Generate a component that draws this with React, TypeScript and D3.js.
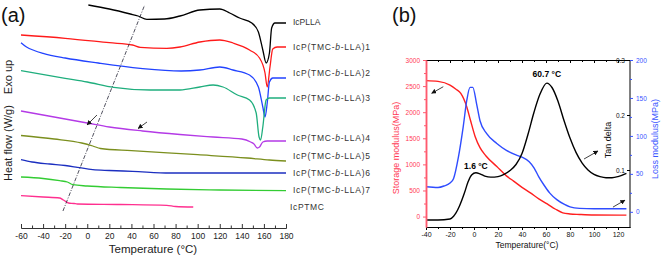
import React, { useRef, useEffect } from 'react';
import * as d3 from 'd3';

// (a) DSC curves: [temperature (°C), heat flow (shifted, W/g)]
const dscPLLA = [[1, 22.3], [20, 21.9], [39, 21.4], [46, 21.2], [54, 20.87], [70, 20.9], [84, 21.2], [102, 21.8], [120, 21.9], [129, 21.5], [138, 21.0], [149, 20.5], [155, 19.6], [159, 17.8], [162, 16.5], [165, 17.5], [167, 20.0], [170, 20.5], [180, 20.5]];
const dsc1 = [[-60, 19.3], [-20, 18.97], [20, 18.53], [41, 18.3], [48, 18.07], [72, 17.97], [84, 18.1], [102, 18.6], [120, 18.8], [132, 18.5], [147, 17.8], [156, 17.0], [161, 15.5], [163, 14.1], [165.5, 16.1], [168, 17.9], [172, 18.1], [180, 18.1]];
const dsc2 = [[-60, 18.53], [-55, 18.1], [-48, 17.75], [-40, 17.47], [-20, 17.0], [10, 16.5], [48, 15.97], [85, 15.7], [102, 15.8], [120, 16.1], [132, 15.8], [147, 15.3], [155, 14.1], [159, 12.1], [161, 11.1], [163, 12.5], [165, 14.6], [168, 15.0], [180, 15.0]];
const dsc3 = [[-60, 15.73], [-20, 14.97], [0, 14.6], [24, 14.07], [57, 13.8], [84, 13.8], [102, 14.1], [114, 14.3], [123, 14.1], [136, 13.3], [147, 12.8], [153, 11.5], [155.6, 9.1], [157, 8.8], [159, 10.1], [162, 12.8], [165, 13.0], [180, 13.0]];
const dsc4 = [[-60, 11.7], [-40, 11.3], [-20, 10.9], [0, 10.5], [20, 10.1], [50, 9.7], [84, 9.35], [114, 9.1], [140, 8.9], [148, 8.6], [151, 8.4], [154, 8.0], [156, 8.1], [159, 8.6], [163, 8.7], [180, 8.7]];
const dsc5 = [[-60, 9.25], [-30, 8.9], [-5, 8.5], [5, 8.2], [12, 7.95], [40, 7.73], [100, 7.33], [145, 7.0], [165, 6.8], [180, 6.7]];
const dsc6 = [[-60, 6.83], [-50, 6.6], [-34, 6.4], [-20, 6.25], [-9, 6.07], [5, 5.83], [20, 5.75], [41, 5.67], [75, 5.5], [180, 5.5]];
const dsc7 = [[-60, 5.1], [-40, 4.95], [-25, 4.73], [-18, 4.6], [-13, 4.33], [0, 4.2], [30, 4.05], [72, 3.9], [120, 3.8], [180, 3.73]];
const dscPTMC = [[-60, 3.23], [-40, 3.1], [-25, 3.0], [-22, 2.83], [-17, 2.5], [-12, 2.45], [-9, 2.4], [30, 2.35], [72, 2.27], [80, 2.15], [96, 2.1]];
const dscNames = ['IcPLLA', '1', '2', '3', '4', '5', '6', '7', 'IcPTMC'];
const dscColors = ['#000000', '#ff1a1a', '#2243ff', '#1fae7d', '#b43ae6', '#7b8f1e', '#1c2fc0', '#33cc33', '#ff2f8f'];
const dscLabelY = [20.63, 18.13, 15.53, 13.03, 9.0, 7.2, 5.5, 3.8, 2.1];
const tgLine = [[-22, 1.7], [52, 22.3]];
const arrowsA = [[8.8, 11.3, -0.2, 10.3], [54.1, 10.6, 46.0, 9.95]];

// (b) DMA: [temperature (°C), value]
const storageMod = [[-40, 2605], [-30, 2590], [-20, 2520], [-15, 2440], [-11, 2360], [-6, 2100], [-3, 1850], [1, 1530], [5, 1320], [10, 1160], [19, 960], [27, 780], [33, 680], [40, 560], [47, 454], [54, 340], [61, 243], [68, 140], [74, 71], [80, 50], [88, 40], [100, 30], [127, 27]];
const lossMod = [[-40, 33], [-30, 32], [-25, 34], [-20, 38], [-17, 44], [-13, 72], [-9, 112], [-6, 147], [-3.3, 164], [-1, 164], [2.2, 142], [5, 120], [10.6, 103], [19, 90], [27, 81], [35, 75], [40, 72], [46, 66], [50, 58], [54, 46], [58, 36], [63, 25], [69, 16], [75, 10], [80, 6.5], [88, 4.5], [100, 4], [127, 4]];
const tanDelta = [[-40, 0.009], [-30, 0.009], [-20, 0.011], [-17, 0.016], [-15, 0.022], [-12, 0.035], [-8, 0.058], [-5, 0.078], [-2, 0.091], [1.6, 0.095], [5, 0.093], [9, 0.089], [14, 0.087], [20, 0.088], [25, 0.092], [30, 0.099], [35, 0.11], [40, 0.13], [45, 0.165], [50, 0.205], [55, 0.238], [60.7, 0.258], [65, 0.25], [70, 0.225], [75, 0.19], [80, 0.158], [85, 0.132], [90, 0.113], [95, 0.1], [100, 0.092], [105, 0.088], [110, 0.086], [115, 0.086], [120, 0.088], [127, 0.094]];

const font = "'Liberation Sans', Arial, sans-serif";

const App = () => {
  const ref = useRef<SVGSVGElement>(null);

  useEffect(() => {
    document.body.style.margin = '0';
    const svg = d3.select(ref.current);
    svg.selectAll('*').remove();
    svg.attr('font-family', font);

    const defs = svg.append('defs');
    defs
      .append('marker')
      .attr('id', 'head')
      .attr('viewBox', '0 0 6 6')
      .attr('refX', 5.5)
      .attr('refY', 3)
      .attr('markerWidth', 5)
      .attr('markerHeight', 5)
      .attr('markerUnits', 'userSpaceOnUse')
      .attr('orient', 'auto')
      .append('path')
      .attr('d', 'M0,0 L6,3 L0,6 z')
      .attr('fill', '#111');

    // ---------- panel (a) ----------
    const xA = d3.scaleLinear().domain([-60, 180]).range([21, 286]);
    const yA = d3.scaleLinear().domain([0, 22]).range([228, 8]);
    const lineA = d3
      .line<number[]>()
      .curve(d3.curveMonotoneX)
      .x((d) => xA(d[0]))
      .y((d) => yA(d[1]));

    const dscData = [dscPLLA, dsc1, dsc2, dsc3, dsc4, dsc5, dsc6, dsc7, dscPTMC];
    dscData.forEach((s, i) => {
      svg
        .append('path')
        .datum(s)
        .attr('fill', 'none')
        .attr('stroke', dscColors[i])
        .attr('stroke-width', 1.3)
        .attr('d', lineA);
    });

    svg
      .append('path')
      .datum(tgLine)
      .attr('fill', 'none')
      .attr('stroke', '#223')
      .attr('stroke-width', 0.8)
      .attr('stroke-dasharray', '4,1.5,1,1.5')
      .attr('d', d3.line<number[]>().x((d) => xA(d[0])).y((d) => yA(d[1])));

    arrowsA.forEach((a) => {
      svg
        .append('line')
        .attr('x1', xA(a[0]))
        .attr('y1', yA(a[1]))
        .attr('x2', xA(a[2]))
        .attr('y2', yA(a[3]))
        .attr('stroke', '#111')
        .attr('stroke-width', 0.8)
        .attr('marker-end', 'url(#head)');
    });

    dscNames.forEach((n, i) => {
      const t = svg
        .append('text')
        .attr('x', xA(180) + (i === 8 ? 4 : 7))
        .attr('y', yA(dscLabelY[i]))
        .attr('dy', '0.35em')
        .attr('font-size', 8.5)
        .attr('fill', '#333');
      if (n.length > 1) {
        t.text(n).attr('textLength', n === 'IcPTMC' ? 34 : 27.4).attr('lengthAdjust', 'spacing');
      } else {
        t.append('tspan').text('IcP(TMC-');
        t.append('tspan').attr('font-style', 'italic').text('b');
        t.append('tspan').text('-LLA)' + n);
        t.attr('textLength', 77).attr('lengthAdjust', 'spacing');
      }
    });

    const gA = svg.append('g').attr('transform', `translate(0, 228)`);
    gA.call(
      d3
        .axisBottom(xA)
        .tickValues(d3.range(-60, 181, 20))
        .tickSize(-4)
        .tickSizeOuter(0)
        .tickPadding(5)
        .tickFormat((d) => String(d))
    );
    gA.append('g').call(
      d3.axisBottom(xA).tickValues(d3.range(-50, 180, 20)).tickSize(-2.5).tickSizeOuter(0).tickFormat(() => '')
    );
    gA.selectAll('.domain').attr('stroke', '#333');
    gA.selectAll('.tick line').attr('stroke', '#333');
    gA.selectAll('text').attr('font-size', 8.5).attr('fill', '#222').attr('font-family', font);

    svg
      .append('text')
      .attr('x', 153)
      .attr('y', 253)
      .attr('text-anchor', 'middle')
      .attr('font-size', 11.5)
      .attr('fill', '#222')
      .text('Temperature (°C)');

    svg
      .append('text')
      .attr('transform', 'translate(12, 143) rotate(-90)')
      .attr('text-anchor', 'middle')
      .attr('font-size', 11)
      .attr('fill', '#222')
      .text('Heat flow (W/g)');
    svg
      .append('text')
      .attr('transform', 'translate(12, 77) rotate(-90)')
      .attr('text-anchor', 'middle')
      .attr('font-size', 11)
      .attr('fill', '#222')
      .text('Exo up');

    svg.append('text').attr('x', 1).attr('y', 22).attr('font-size', 20).attr('fill', '#111').text('(a)');

    // ---------- panel (b) ----------
    const xB = d3.scaleLinear().domain([-40, 130]).range([426, 630]);
    const yS = d3.scaleLinear().domain([-200, 3000]).range([227, 60]);
    const yL = d3.scaleLinear().domain([-20, 200]).range([227, 60]);
    const yT = d3.scaleLinear().domain([0, 0.3]).range([225, 60]);

    const curve = (y: d3.ScaleLinear<number, number>) =>
      d3
        .line<number[]>()
        .curve(d3.curveMonotoneX)
        .x((d) => xB(d[0]))
        .y((d) => y(d[1]));

    svg.append('path').datum(storageMod).attr('fill', 'none').attr('stroke', '#ff1f1f').attr('stroke-width', 1.4).attr('d', curve(yS));
    svg.append('path').datum(lossMod).attr('fill', 'none').attr('stroke', '#2f4cff').attr('stroke-width', 1.4).attr('d', curve(yL));
    svg.append('path').datum(tanDelta).attr('fill', 'none').attr('stroke', '#000').attr('stroke-width', 1.4).attr('d', curve(yT));

    // bottom axis
    const gB = svg.append('g').attr('transform', 'translate(0, 227)');
    gB.call(
      d3.axisBottom(xB).tickValues(d3.range(-40, 121, 20)).tickSize(3).tickSizeOuter(0).tickPadding(2).tickFormat((d) => String(d))
    );
    gB.append('g').call(d3.axisBottom(xB).tickValues(d3.range(-30, 130, 20)).tickSize(2).tickSizeOuter(0).tickFormat(() => ''));
    gB.selectAll('text').attr('font-size', 7).attr('fill', '#111').attr('font-family', font);

    // top axis
    const gT = svg.append('g').attr('transform', 'translate(0, 60)');
    gT.call(d3.axisBottom(xB).tickValues(d3.range(-40, 130, 10)).tickSize(-0).tickSizeOuter(0).tickFormat(() => ''));
    gT.append('g').call(d3.axisTop(xB).tickValues(d3.range(-40, 130, 20)).tickSize(-3).tickSizeOuter(0).tickFormat(() => ''));
    gT.append('g').call(d3.axisTop(xB).tickValues(d3.range(-30, 130, 20)).tickSize(-2).tickSizeOuter(0).tickFormat(() => ''));

    // left axis (storage modulus)
    const gS = svg.append('g').attr('transform', 'translate(426, 0)');
    gS.call(d3.axisLeft(yS).tickValues(d3.range(0, 3001, 500)).tickSize(3).tickSizeOuter(0).tickPadding(3).tickFormat((d) => String(d)));
    gS.append('g').call(d3.axisLeft(yS).tickValues(d3.range(250, 3000, 500)).tickSize(2).tickSizeOuter(0).tickFormat(() => ''));
    gS.selectAll('.domain').attr('stroke', '#ff5a6e').attr('stroke-width', 1.5);
    gS.selectAll('.tick line').attr('stroke', '#ff5a6e');
    gS.selectAll('text').attr('font-size', 6.5).attr('fill', '#ff3a55').attr('font-family', font);

    // right axes: tan delta (inside) and loss modulus (outside)
    const gTd = svg.append('g').attr('transform', 'translate(630, 0)');
    gTd.append('line').attr('y1', 60).attr('y2', 227).attr('stroke', '#000');
    gTd.call(d3.axisLeft(yT).tickValues([0.1, 0.2, 0.3]).tickSize(3).tickPadding(2).tickFormat(d3.format('.1f')));
    gTd.selectAll('.domain').remove();
    gTd.selectAll('text').attr('font-size', 6.5).attr('fill', '#111').attr('font-family', font);

    const gL = svg.append('g').attr('transform', 'translate(630, 0)');
    gL.call(d3.axisRight(yL).tickValues(d3.range(0, 201, 50)).tickSize(3).tickPadding(3).tickFormat((d) => String(d)));
    gL.append('g').call(d3.axisRight(yL).tickValues(d3.range(25, 200, 50)).tickSize(2).tickFormat(() => ''));
    gL.selectAll('.domain').remove();
    gL.selectAll('.tick line').attr('stroke', '#3a55ff');
    gL.selectAll('text').attr('font-size', 6.5).attr('fill', '#3a55ff').attr('font-family', font);

    svg
      .append('text')
      .attr('x', 527)
      .attr('y', 248)
      .attr('text-anchor', 'middle')
      .attr('font-size', 8.5)
      .attr('fill', '#111')
      .text('Temperature(°C)');
    svg
      .append('text')
      .attr('transform', 'translate(399, 148) rotate(-90)')
      .attr('text-anchor', 'middle')
      .attr('font-size', 9)
      .attr('fill', '#ff3a55')
      .text('Storage modulus(MPa)');
    svg
      .append('text')
      .attr('transform', 'translate(658, 139) rotate(-90)')
      .attr('text-anchor', 'middle')
      .attr('font-size', 9)
      .attr('fill', '#3a55ff')
      .text('Loss modulus(MPa)');
    svg
      .append('text')
      .attr('transform', 'translate(611, 140) rotate(-90)')
      .attr('text-anchor', 'middle')
      .attr('font-size', 9)
      .attr('fill', '#111')
      .text('Tan delta');

    svg
      .append('text')
      .attr('x', xB(60.7))
      .attr('y', yT(0.258) - 6)
      .attr('text-anchor', 'middle')
      .attr('font-size', 8.5)
      .attr('font-weight', 'bold')
      .text('60.7 °C');
    svg
      .append('text')
      .attr('x', xB(1.6))
      .attr('y', yT(0.095) - 4)
      .attr('text-anchor', 'middle')
      .attr('font-size', 8.5)
      .attr('font-weight', 'bold')
      .text('1.6 °C');

    const arrowsB = [
      [xB(-25.6), yS(2488), xB(-35.3), yS(2362)],
      [xB(91.7), yT(0.12), xB(103.3), yT(0.1345)],
      [xB(115.8), yL(6.2), xB(125.8), yL(15.4)],
    ];
    arrowsB.forEach((a) => {
      svg
        .append('line')
        .attr('x1', a[0])
        .attr('y1', a[1])
        .attr('x2', a[2])
        .attr('y2', a[3])
        .attr('stroke', '#111')
        .attr('stroke-width', 0.8)
        .attr('marker-end', 'url(#head)');
    });

    svg.append('text').attr('x', 392).attr('y', 22).attr('font-size', 20).attr('fill', '#111').text('(b)');
  }, []);

  return <svg ref={ref} width={661} height={257} style={{ display: 'block', background: '#fff' }}></svg>;
};

export default App;
